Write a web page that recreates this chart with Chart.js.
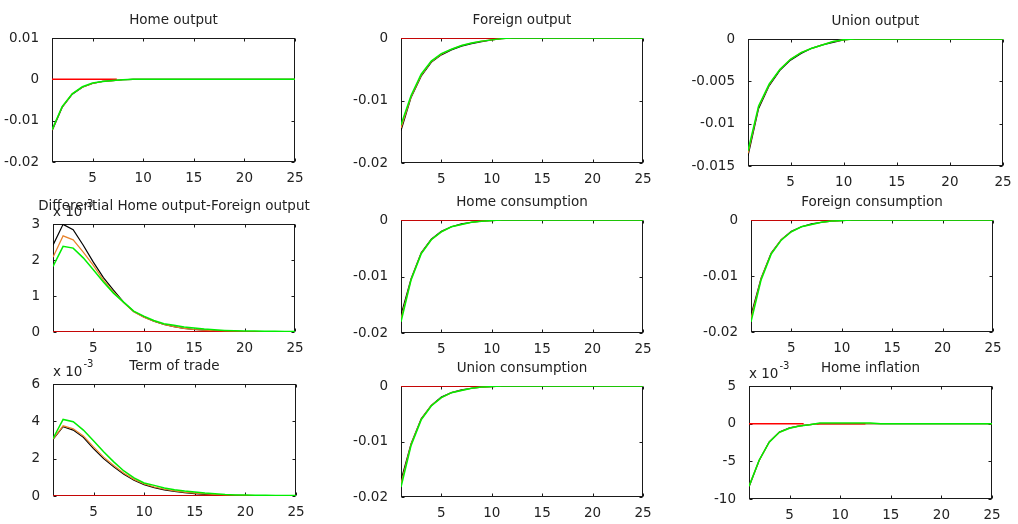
<!DOCTYPE html>
<html>
<head>
<meta charset="utf-8">
<script src="https://cdn.jsdelivr.net/npm/chart.js@4.4.0/dist/chart.umd.min.js"></script>
<style>
    html, body { margin: 0; padding: 0; background: #fff; }
    #wrap { position: relative; width: 1018px; height: 524px; overflow: hidden; }
    #wrap canvas { position: absolute; left: 0; top: 0; }
</style>
</head>
<body>
<div id="wrap"></div>
<script>
const periods = [1, 2, 3, 4, 5, 6, 7, 8, 9, 10, 11, 12, 13, 14, 15, 16, 17, 18, 19, 20, 21, 22, 23, 24, 25];
const xTicks = [5, 10, 15, 20, 25];

// Home output
const homeOutputBlack = [-0.0125, -0.0068, -0.0036, -0.0019, -0.0010, -0.0005, -0.0003, -0.0001, 0, 0, 0, 0, 0, 0, 0, 0, 0, 0, 0, 0, 0, 0, 0, 0, 0];
const homeOutputOrange = [-0.0123, -0.0067, -0.0035, -0.0019, -0.0010, -0.0005, -0.0003, -0.0001, 0, 0, 0, 0, 0, 0, 0, 0, 0, 0, 0, 0, 0, 0, 0, 0, 0];
const homeOutputGreen = [-0.0122, -0.0066, -0.0035, -0.0018, -0.0009, -0.0005, -0.0003, -0.0001, 0, 0, 0, 0, 0, 0, 0, 0, 0, 0, 0, 0, 0, 0, 0, 0, 0];
const homeOutputZero = [[1, 7.4]];
const homeOutputTicks = [-0.02, -0.01, 0, 0.01];

// Foreign output
const foreignOutputBlack = [-0.0148, -0.0095, -0.0061, -0.0039, -0.0027, -0.0019, -0.0013, -0.0009, -0.0006, -0.0003, -0.0001, 0, 0, 0, 0, 0, 0, 0, 0, 0, 0, 0, 0, 0, 0];
const foreignOutputOrange = [-0.0144, -0.0094, -0.0060, -0.0038, -0.0026, -0.0018, -0.0012, -0.0008, -0.0005, -0.0003, -0.0001, 0, 0, 0, 0, 0, 0, 0, 0, 0, 0, 0, 0, 0, 0];
const foreignOutputGreen = [-0.0139, -0.0092, -0.0058, -0.0037, -0.0025, -0.0018, -0.0012, -0.0008, -0.0005, -0.0003, -0.0001, 0, 0, 0, 0, 0, 0, 0, 0, 0, 0, 0, 0, 0, 0];
const foreignOutputZero = [[1, 11.4]];
const foreignOutputTicks = [-0.02, -0.01, 0];

// Union output
const unionOutputBlack = [-0.0138, -0.0082, -0.0055, -0.0037, -0.0025, -0.0017, -0.0011, -0.0007, -0.0004, -0.0001, 0, 0, 0, 0, 0, 0, 0, 0, 0, 0, 0, 0, 0, 0, 0];
const unionOutputOrange = [-0.0135, -0.0080, -0.0054, -0.0036, -0.0024, -0.0016, -0.0011, -0.0007, -0.0003, -0.0001, 0, 0, 0, 0, 0, 0, 0, 0, 0, 0, 0, 0, 0, 0, 0];
const unionOutputGreen = [-0.0132, -0.0079, -0.0053, -0.0036, -0.0024, -0.0016, -0.0011, -0.0007, -0.0003, -0.0001, 0, 0, 0, 0, 0, 0, 0, 0, 0, 0, 0, 0, 0, 0, 0];
const unionOutputZero = [];
const unionOutputTicks = [-0.015, -0.01, -0.005, 0];

// Differential Home output-Foreign output
const diffBlack = [0.00241, 0.00299, 0.00284, 0.00241, 0.00194, 0.00151, 0.00116, 0.00083, 0.00057, 0.00042, 0.00030, 0.00021, 0.00015, 0.00010, 0.00007, 0.00005, 0.000035, 0.000025, 0.000018, 0.000013, 0.00001, 0.000008, 0.000006, 0.000005, 0.000004];
const diffOrange = [0.00208, 0.00267, 0.00256, 0.00222, 0.00185, 0.00144, 0.00111, 0.00082, 0.00056, 0.00041, 0.00030, 0.00021, 0.00015, 0.00010, 0.00007, 0.00005, 0.000035, 0.000025, 0.000018, 0.000013, 0.00001, 0.000008, 0.000006, 0.000005, 0.000004];
const diffGreen = [0.00182, 0.00238, 0.00233, 0.00206, 0.00173, 0.00139, 0.00108, 0.00083, 0.00058, 0.00044, 0.00032, 0.00023, 0.000185, 0.00014, 0.00011, 0.00008, 0.00006, 0.000045, 0.000035, 0.00003, 0.000025, 0.00002, 0.00002, 0.000015, 0.000015];
const diffZero = [[1, 25]];
const diffTicks = [0, 0.001, 0.002, 0.003];

// Home consumption
const homeConsBlack = [-0.0168, -0.0104, -0.0058, -0.0034, -0.0020, -0.0012, -0.0007, -0.0004, -0.0002, -0.0001, 0, 0, 0, 0, 0, 0, 0, 0, 0, 0, 0, 0, 0, 0, 0];
const homeConsOrange = [-0.0175, -0.0105, -0.0059, -0.0035, -0.0021, -0.0012, -0.0008, -0.0004, -0.0002, -0.0001, 0, 0, 0, 0, 0, 0, 0, 0, 0, 0, 0, 0, 0, 0, 0];
const homeConsGreen = [-0.0180, -0.0106, -0.0060, -0.0035, -0.0021, -0.0012, -0.0008, -0.0004, -0.0002, -0.0001, 0, 0, 0, 0, 0, 0, 0, 0, 0, 0, 0, 0, 0, 0, 0];
const homeConsZero = [[1, 10.5]];
const homeConsTicks = [-0.02, -0.01, 0];

// Foreign consumption
const foreignConsBlack = [-0.0170, -0.0104, -0.0059, -0.0035, -0.0020, -0.0012, -0.0007, -0.0004, -0.0002, -0.0001, 0, 0, 0, 0, 0, 0, 0, 0, 0, 0, 0, 0, 0, 0, 0];
const foreignConsOrange = [-0.0176, -0.0105, -0.0060, -0.0035, -0.0021, -0.0012, -0.0008, -0.0004, -0.0002, -0.0001, 0, 0, 0, 0, 0, 0, 0, 0, 0, 0, 0, 0, 0, 0, 0];
const foreignConsGreen = [-0.0182, -0.0107, -0.0061, -0.0036, -0.0021, -0.0012, -0.0008, -0.0004, -0.0002, -0.0001, 0, 0, 0, 0, 0, 0, 0, 0, 0, 0, 0, 0, 0, 0, 0];
const foreignConsZero = [[1, 10.5]];
const foreignConsTicks = [-0.02, -0.01, 0];

// Term of trade
const totBlack = [0.00303, 0.00371, 0.00353, 0.00314, 0.00254, 0.00200, 0.00156, 0.00116, 0.00084, 0.00061, 0.00045, 0.00033, 0.00025, 0.00018, 0.00013, 0.00009, 0.00006, 0.00004, 0.00003, 0.00002, 0.00002, 0.00001, 0.00001, 0.00001, 0.00001];
const totOrange = [0.00305, 0.00376, 0.00360, 0.00322, 0.00263, 0.00208, 0.00163, 0.00122, 0.00089, 0.00065, 0.00048, 0.00036, 0.00027, 0.00020, 0.00015, 0.00011, 0.00008, 0.00005, 0.00004, 0.00003, 0.00002, 0.00002, 0.00001, 0.00001, 0.00001];
const totGreen = [0.00308, 0.00410, 0.00398, 0.00353, 0.00296, 0.00237, 0.00183, 0.00134, 0.00097, 0.00070, 0.00057, 0.00043, 0.00034, 0.00027, 0.00022, 0.00016, 0.00012, 0.00008, 0.00006, 0.00005, 0.00004, 0.00004, 0.00003, 0.00003, 0.00003];
const totZero = [[1, 25]];
const totTicks = [0, 0.002, 0.004, 0.006];

// Union consumption
const unionConsBlack = [-0.0170, -0.0104, -0.0059, -0.0035, -0.0020, -0.0012, -0.0007, -0.0004, -0.0002, -0.0001, 0, 0, 0, 0, 0, 0, 0, 0, 0, 0, 0, 0, 0, 0, 0];
const unionConsOrange = [-0.0176, -0.0105, -0.0060, -0.0035, -0.0021, -0.0012, -0.0008, -0.0004, -0.0002, -0.0001, 0, 0, 0, 0, 0, 0, 0, 0, 0, 0, 0, 0, 0, 0, 0];
const unionConsGreen = [-0.0182, -0.0107, -0.0061, -0.0036, -0.0021, -0.0012, -0.0008, -0.0004, -0.0002, -0.0001, 0, 0, 0, 0, 0, 0, 0, 0, 0, 0, 0, 0, 0, 0, 0];
const unionConsZero = [[1, 10.5]];
const unionConsTicks = [-0.02, -0.01, 0];

// Home inflation
const inflBlack = [-0.0084, -0.0049, -0.0024, -0.0011, -0.00055, -0.0003, -0.00012, 0, 0, 0, 0, 0, 0, 0, 0, 0, 0, 0, 0, 0, 0, 0, 0, 0, 0];
const inflOrange = [-0.0083, -0.0049, -0.00245, -0.00115, -0.0006, -0.0003, -0.00013, 0, 0, 0, 0, 0, 0, 0, 0, 0, 0, 0, 0, 0, 0, 0, 0, 0, 0];
const inflGreen = [-0.0083, -0.00485, -0.00245, -0.00115, -0.0006, -0.0003, -0.00013, 0.0001, 0.0001, 0.0001, 0.0001, 0.0001, 0.0001, 0, 0, 0, 0, 0, 0, 0, 0, 0, 0, 0, 0];
const inflZero = [[1, 6.4], [7.7, 12.5]];
const inflTicks = [-0.01, -0.005, 0, 0.005];

const W = 1018, H = 524;
const X_H = 24;
const TEXT = '#222';
const FONT = '"DejaVu Sans", sans-serif';

function series(values, color, width) {
    return {
        data: values.map((v, i) => ({ x: periods[i], y: v })),
        borderColor: color,
        borderWidth: width,
        pointRadius: 0,
        fill: false,
    };
}

function zeroLine(spans) {
    const pts = [];
    spans.forEach((s, i) => {
        if (i > 0) pts.push({ x: (spans[i - 1][1] + s[0]) / 2, y: null });
        pts.push({ x: s[0], y: 0 }, { x: s[1], y: 0 });
    });
    return { data: pts, borderColor: '#ff0000', borderWidth: 1.5, pointRadius: 0, spanGaps: false };
}

// frame, inward ticks, title and exponent label (MATLAB style)
const panelPlugin = {
    id: 'panel',
    beforeDatasetsDraw(chart, args, opts) {
        const { ctx, chartArea: ca } = chart;
        const xs = chart.scales.x, ys = chart.scales.y;
        ctx.save();
        ctx.strokeStyle = '#1a1a1a';
        ctx.lineWidth = 1;
        const l = Math.round(ca.left) + 0.5, r = Math.round(ca.right) - 0.5;
        const t = Math.round(ca.top) + 0.5, b = Math.round(ca.bottom) - 0.5;
        ctx.strokeRect(l, t, r - l, b - t);
        ctx.beginPath();
        xs.ticks.forEach((tk) => {
            const px = Math.round(xs.getPixelForValue(tk.value)) + 0.5;
            ctx.moveTo(px, b); ctx.lineTo(px, b - 3);
            ctx.moveTo(px, t); ctx.lineTo(px, t + 3);
        });
        ys.ticks.forEach((tk) => {
            const py = Math.round(ys.getPixelForValue(tk.value)) + 0.5;
            ctx.moveTo(l, py); ctx.lineTo(l + 3, py);
            ctx.moveTo(r, py); ctx.lineTo(r - 3, py);
        });
        ctx.stroke();

        ctx.fillStyle = TEXT;
        if (opts.exponent) {
            ctx.font = '13.5px ' + FONT;
            ctx.textAlign = 'left';
            ctx.textBaseline = 'middle';
            ctx.fillText('x 10', ca.left, ca.top - 12);
            const w = ctx.measureText('x 10').width;
            ctx.font = '10px ' + FONT;
            ctx.fillText(opts.exponent, ca.left + w + 1, ca.top - 20);
        }
        ctx.font = '13.5px ' + FONT;
        ctx.textAlign = 'center';
        ctx.textBaseline = 'middle';
        ctx.fillText(opts.title, (ca.left + ca.right) / 2, ca.top - 18);
        ctx.restore();
    }
};

function makePanel(p) {
    const canvas = document.createElement('canvas');
    canvas.width = W;
    canvas.height = H;
    document.getElementById('wrap').appendChild(canvas);

    const yW = Math.min(p.box[0], 64);

    const datasets = [series(p.green, '#00ee00', 1.5)];
    if (p.zero.length) datasets.push(zeroLine(p.zero));
    datasets.push(series(p.orange, '#e8822a', 1.2));
    datasets.push(series(p.black, '#000000', 1.2));

    const fmt = p.exponent
        ? (v) => String(Math.round(v * 1000))
        : (v) => String(parseFloat(v.toFixed(6)));

    new Chart(canvas, {
        type: 'line',
        data: { datasets },
        options: {
            responsive: false,
            animation: false,
            events: [],
            layout: { padding: { left: p.box[0] - yW, top: p.box[1], right: W - p.box[2], bottom: H - p.box[3] - X_H } },
            plugins: {
                legend: { display: false },
                tooltip: { enabled: false },
                panel: { title: p.title, exponent: p.exponent },
            },
            elements: { line: { tension: 0 } },
            scales: {
                x: {
                    type: 'linear', min: 1, max: 25,
                    grid: { display: false }, border: { display: false },
                    afterBuildTicks: (s) => { s.ticks = xTicks.map((v) => ({ value: v })); },
                    afterFit: (s) => { s.height = X_H; },
                    ticks: { padding: 0, color: TEXT, font: { family: FONT, size: 13.5 }, maxRotation: 0, autoSkip: false, callback: (v) => String(v) },
                },
                y: {
                    type: 'linear', min: p.ticks[0], max: p.ticks[p.ticks.length - 1],
                    grid: { display: false }, border: { display: false },
                    afterBuildTicks: (s) => { s.ticks = p.ticks.map((v) => ({ value: v })); },
                    afterFit: (s) => { s.width = yW; },
                    ticks: { padding: 5, color: TEXT, font: { family: FONT, size: 13.5 }, autoSkip: false, callback: fmt },
                },
            },
        },
        plugins: [panelPlugin],
    });
}

const panels = [
    { title: 'Home output', box: [52, 38, 295, 162], ticks: homeOutputTicks, black: homeOutputBlack, orange: homeOutputOrange, green: homeOutputGreen, zero: homeOutputZero },
    { title: 'Foreign output', box: [401, 38, 643, 163], ticks: foreignOutputTicks, black: foreignOutputBlack, orange: foreignOutputOrange, green: foreignOutputGreen, zero: foreignOutputZero },
    { title: 'Union output', box: [748, 39, 1003, 166], ticks: unionOutputTicks, black: unionOutputBlack, orange: unionOutputOrange, green: unionOutputGreen, zero: unionOutputZero },
    { title: 'Differential Home output-Foreign output', exponent: '-3', box: [53, 224, 295, 332], ticks: diffTicks, black: diffBlack, orange: diffOrange, green: diffGreen, zero: diffZero },
    { title: 'Home consumption', box: [401, 220, 643, 333], ticks: homeConsTicks, black: homeConsBlack, orange: homeConsOrange, green: homeConsGreen, zero: homeConsZero },
    { title: 'Foreign consumption', box: [751, 220, 993, 332], ticks: foreignConsTicks, black: foreignConsBlack, orange: foreignConsOrange, green: foreignConsGreen, zero: foreignConsZero },
    { title: 'Term of trade', exponent: '-3', box: [53, 384, 296, 496], ticks: totTicks, black: totBlack, orange: totOrange, green: totGreen, zero: totZero },
    { title: 'Union consumption', box: [401, 386, 643, 497], ticks: unionConsTicks, black: unionConsBlack, orange: unionConsOrange, green: unionConsGreen, zero: unionConsZero },
    { title: 'Home inflation', exponent: '-3', box: [749, 386, 992, 499], ticks: inflTicks, black: inflBlack, orange: inflOrange, green: inflGreen, zero: inflZero },
];

panels.forEach(makePanel);
</script>
</body>
</html>
